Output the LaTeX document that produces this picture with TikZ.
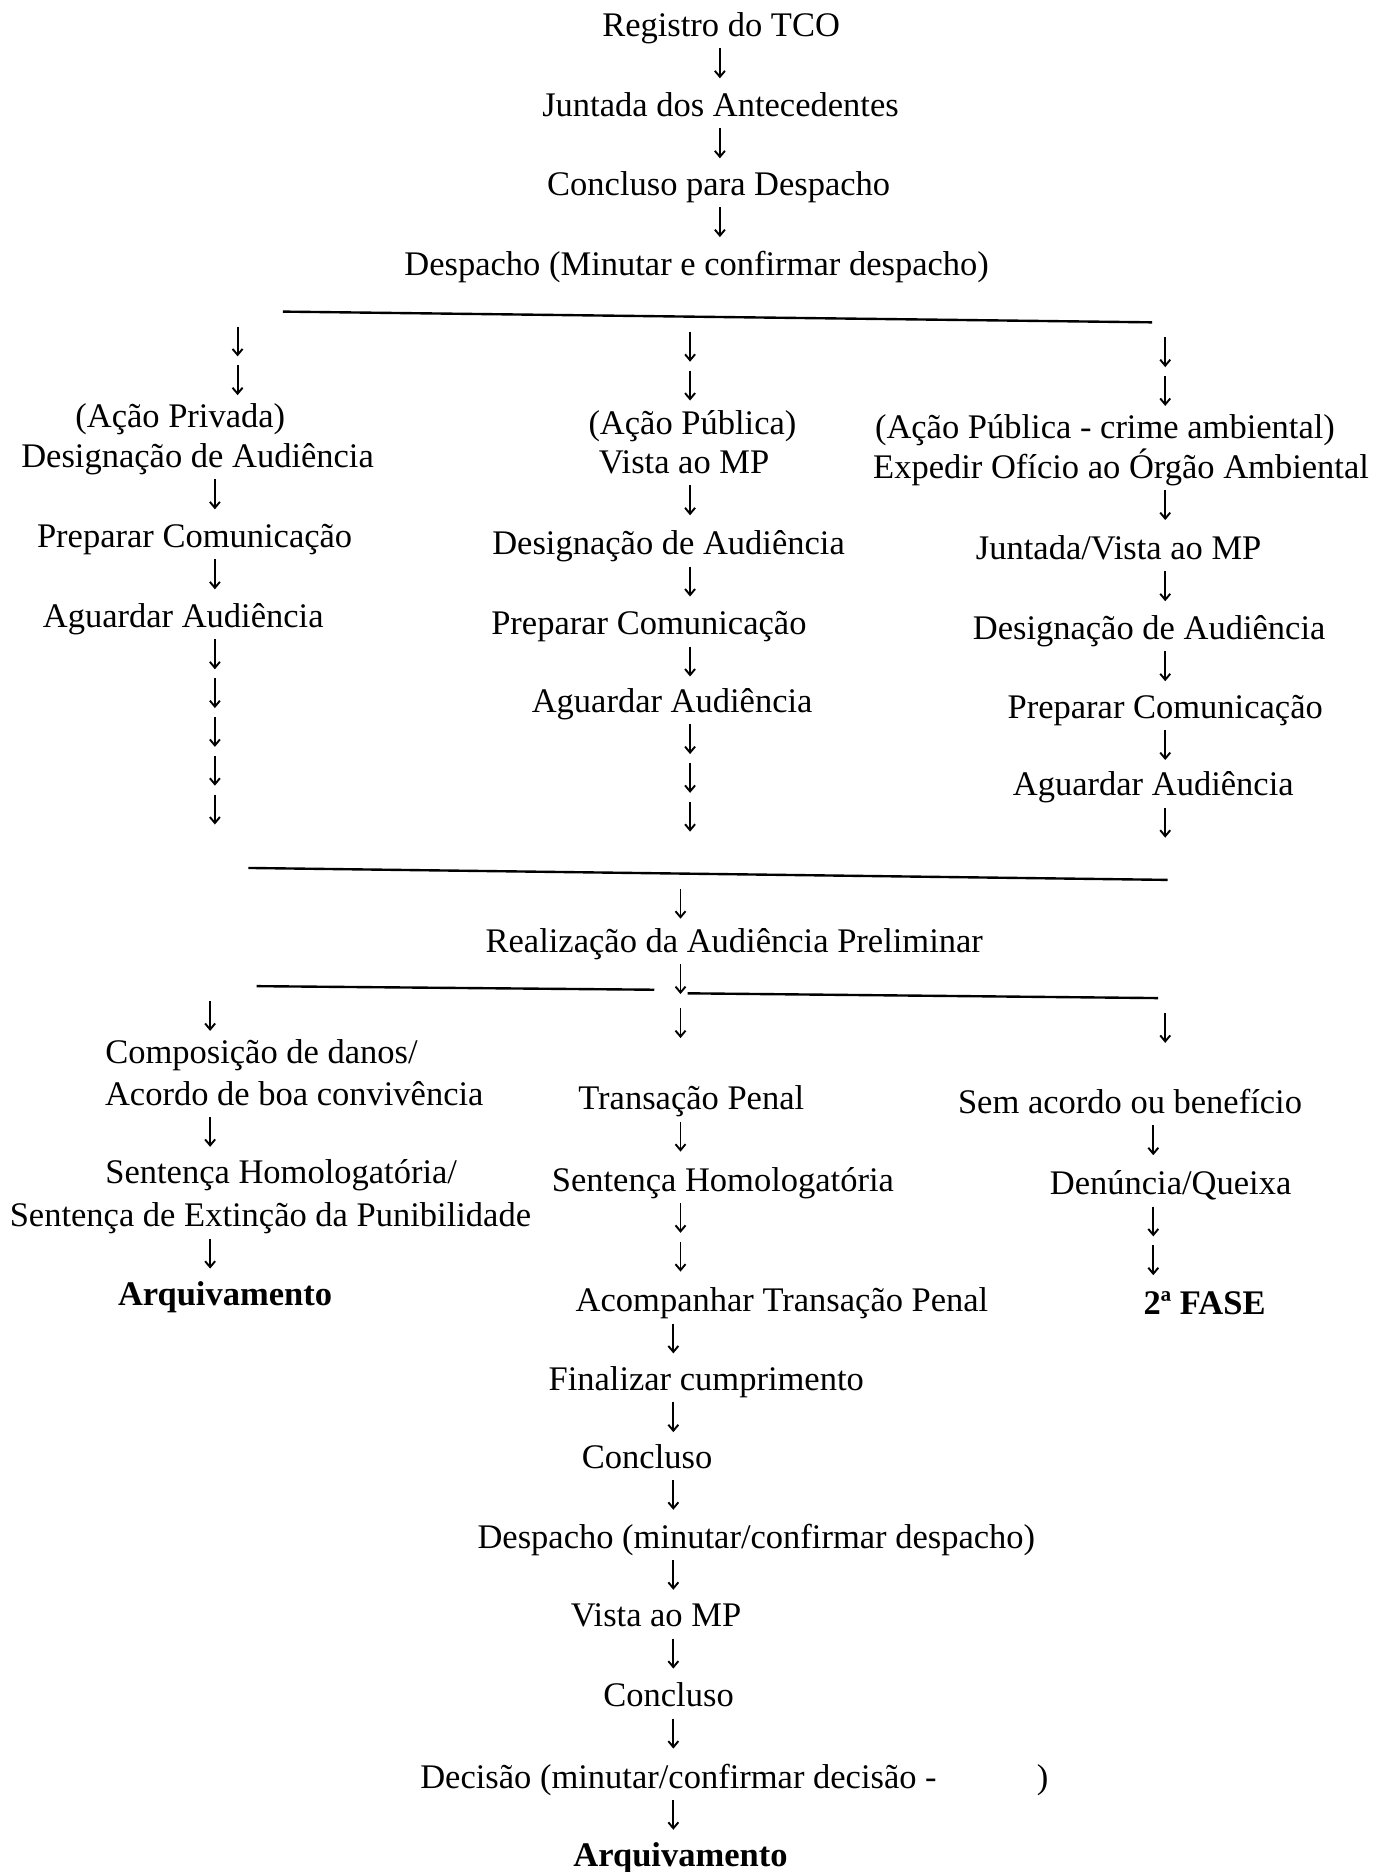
\documentclass[tikz,border=0pt]{standalone}
\usepackage{fontspec}
\setmainfont{Liberation Serif}
\usetikzlibrary{arrows.meta,calc}

\tikzset{
  txt/.style={inner sep=0pt, text height=0.87em, text depth=0pt, font=\fontsize{14.45}{17.25}\selectfont},
  bold/.style={txt, font=\fontsize{14.45}{17.25}\selectfont\bfseries},
  arr/.style={line width=0.8pt, -{Straight Barb[length=2.5pt,width=4.2pt]}},
  rule/.style={line width=1pt},
}
% n short arrows hanging below a point, in a given column
\newcommand{\arrs}[4][9.5]{%
  \foreach \k in {1,...,#4}
    \draw[arr] ($(#2 -| #3)+(0,{#1+32.5*(\k-1)})$) -- ++(0,25);}

\begin{document}
\begin{tikzpicture}[x=0.5pt,y=-0.5pt]
\useasboundingbox (0,0) rectangle (1163,1568);
% columns of arrows
\coordinate (cT) at (603,0);
\coordinate (cL1) at (199,0);
\coordinate (cL) at (180,0);
\coordinate (cM) at (578,0);
\coordinate (cR) at (976,0);
\coordinate (cC) at (570,0);
\coordinate (cD) at (564,0);
\coordinate (cLL) at (176,0);
\coordinate (cRR) at (966,0);

% top
\node[txt] (reg) at (604,22) {Registro do TCO};
\node[txt] (junt) at (603.5,89) {Juntada dos Antecedentes};
\node[txt] (concl) at (602,155) {Concluso para Despacho};
\node[txt] (desp) at (583.5,222) {Despacho (Minutar e confirmar despacho)};
\arrs{reg.south}{cT}{1}
\arrs{junt.south}{cT}{1}
\arrs{concl.south}{cT}{1}

\coordinate (l1a) at (237,261);
\coordinate (l1b) at (965,270);
\coordinate (l1m) at ($(l1a)!0.5!(l1b)$);
\draw[rule] (l1a) -- (l1b);
\arrs[12.5]{l1a}{cL1}{2}
\arrs[12.5]{l1m}{cM}{2}
\arrs[12.5]{l1b}{cR}{2}

% left: acao privada
\node[txt] (privL) at (151,349) {(Ação Privada)};
\node[txt] (desigL) at (165.5,383) {Designação de Audiência};
\node[txt] (prepL) at (163,450) {Preparar Comunicação};
\node[txt] (aguL) at (153.5,517) {Aguardar Audiência};
\arrs{desigL.south}{cL}{1}
\arrs{prepL.south}{cL}{1}
\arrs{aguL.south}{cL}{5}

% middle: acao publica
\node[txt] (pubM) at (580,355) {(Ação Pública)};
\node[txt] (vistaM) at (573,388) {Vista ao MP};
\node[txt] (desigM) at (560,456) {Designação de Audiência};
\node[txt] (prepM) at (543.5,523) {Preparar Comunicação};
\node[txt] (aguM) at (563,588) {Aguardar Audiência};
\arrs{vistaM.south}{cM}{1}
\arrs{desigM.south}{cM}{1}
\arrs{prepM.south}{cM}{1}
\arrs{aguM.south}{cM}{3}

% right: crime ambiental
\node[txt] (pubR) at (925.5,359) {(Ação Pública - crime ambiental)};
\node[txt] (expR) at (939,392) {Expedir Ofício ao Órgão Ambiental};
\node[txt] (juntR) at (937,460) {Juntada/Vista ao MP};
\node[txt] (desigR) at (962.5,527) {Designação de Audiência};
\node[txt] (prepR) at (976,593) {Preparar Comunicação};
\node[txt] (aguR) at (966,658) {Aguardar Audiência};
\arrs{expR.south}{cR}{1}
\arrs{juntR.south}{cR}{1}
\arrs{desigR.south}{cR}{1}
\arrs{prepR.south}{cR}{1}
\arrs{aguR.south}{cR}{1}

\coordinate (l2a) at (208,727);
\coordinate (l2b) at (978,737);
\coordinate (l2m) at ($(l2a)!0.5!(l2b)$);
\draw[rule] (l2a) -- (l2b);
\arrs[12.5]{l2m}{cC}{1}

\node[txt] (real) at (615,789) {Realização da Audiência Preliminar};
\arrs{real.south}{cC}{1}

\coordinate (l3a) at (215,826);
\coordinate (l3c) at (548,829);
\coordinate (l3d) at (576,832);
\coordinate (l3b) at (970,836);
\draw[rule] (l3a) -- (l3c);
\draw[rule] (l3d) -- (l3b);
\arrs[12.5]{l3a}{cLL}{1}
\arrs[12.5]{l3d}{cC}{1}
\arrs[12.5]{l3b}{cR}{1}

% lower left
\node[txt] (compL) at (219,882) {Composição de danos/};
\node[txt] (acordL) at (246.5,917) {Acordo de boa convivência};
\node[txt] (sentLa) at (235.5,983) {Sentença Homologatória/};
\node[txt] (sentLb) at (226.5,1019) {Sentença de Extinção da Punibilidade};
\node[bold] (arqL) at (188.5,1085) {Arquivamento};
\arrs{acordL.south}{cLL}{1}
\arrs{sentLb.south}{cLL}{1}

% lower middle
\node[txt] (transM) at (579,921) {Transação Penal};
\node[txt] (sentM) at (605.5,989) {Sentença Homologatória};
\node[txt] (acompM) at (655,1090) {Acompanhar Transação Penal};
\node[txt] (finM) at (591.5,1156) {Finalizar cumprimento};
\node[txt] (conclMa) at (542,1221) {Concluso};
\node[txt] (despM) at (633.5,1288) {Despacho (minutar/confirmar despacho)};
\node[txt] (vistaMb) at (549.5,1354) {Vista ao MP};
\node[txt] (conclMb) at (560,1421) {Concluso};
\node[txt] (decM) at (615,1489) {Decisão (minutar/confirmar decisão -\hspace{2.9em})};
\node[bold] (arqM) at (570,1555) {Arquivamento};
\arrs{transM.south}{cC}{1}
\arrs{sentM.south}{cC}{2}
\arrs{acompM.south}{cD}{1}
\arrs{finM.south}{cD}{1}
\arrs{conclMa.south}{cD}{1}
\arrs{despM.south}{cD}{1}
\arrs{vistaMb.south}{cD}{1}
\arrs{conclMb.south}{cD}{1}
\arrs{decM.south}{cD}{1}

% lower right
\node[txt] (semR) at (946.5,924) {Sem acordo ou benefício};
\node[txt] (denR) at (980.5,992) {Denúncia/Queixa};
\node[bold] (faseR) at (1009,1092) {2ª FASE};
\arrs{semR.south}{cRR}{1}
\arrs{denR.south}{cRR}{2}
\end{tikzpicture}
\end{document}
